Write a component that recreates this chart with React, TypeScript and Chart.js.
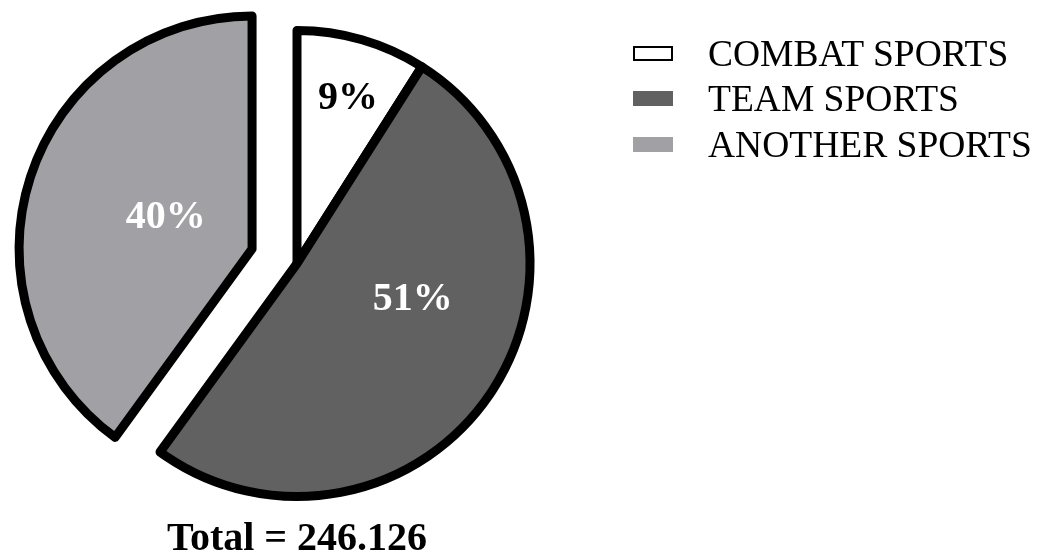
import React, { useEffect, useRef } from "react";
import { Chart, registerables } from "chart.js";

Chart.register(...registerables);

const categories = ["COMBAT SPORTS", "TEAM SPORTS", "ANOTHER SPORTS"];
const percentages = [9, 51, 40];
const sliceColors = ["#ffffff", "#616161", "#a1a0a5"];
const sliceOffsets = [0, 0, 189];
const labelColors = ["#000000", "#ffffff", "#ffffff"];
const totalText = "Total = 246.126";

const SERIF = "'Liberation Serif', 'Times New Roman', Times, serif";

const sliceLabelPlugin = {
  id: "sliceLabels",
  afterDatasetsUpdate(chart: any) {
    // Chart.js enlarges and narrows exploded slices; keep them at the common radius and angle span
    const meta = chart.getDatasetMeta(0);
    meta.data.forEach((arc: any) => {
      const off = (arc.options && arc.options.offset) || 0;
      if (!off) return;
      const t = off / 4;
      const circ = arc.endAngle - arc.startAngle;
      const fix = 1 - Math.sin(Math.min(Math.PI, circ));
      const radiusOffset = t * fix;
      const baseR = arc.outerRadius;
      arc.outerRadius = baseR - radiusOffset;
      const ao = radiusOffset / (2 * Math.PI * baseR);
      arc.startAngle = arc.startAngle - ao;
      arc.endAngle = arc.endAngle + ao;
    });
  },
  afterDatasetsDraw(chart: any, _args: any, opts: any) {
    const ctx = chart.ctx;
    const meta = chart.getDatasetMeta(0);
    const values = chart.data.datasets[0].data;
    ctx.save();
    ctx.font = opts.font;
    ctx.textAlign = "center";
    ctx.textBaseline = "middle";
    meta.data.forEach((arc: any, i: number) => {
      const off = (arc.options && arc.options.offset) || 0;
      const mid = (arc.startAngle + arc.endAngle) / 2;
      const t = off / 4;
      const ang = mid + (opts.angleShift[i] * Math.PI) / 180;
      const r = opts.radiusFrac[i] * arc.outerRadius;
      const x = arc.x + Math.cos(mid) * t + Math.cos(ang) * r;
      const y = arc.y + Math.sin(mid) * t + Math.sin(ang) * r;
      ctx.fillStyle = opts.colors[i];
      ctx.fillText(values[i] + "%", x, y);
    });
    ctx.restore();
  },
};

export default function App() {
  const canvasRef = useRef<HTMLCanvasElement | null>(null);

  useEffect(() => {
    if (!canvasRef.current) return;
    const chart = new Chart(canvasRef.current, {
      type: "pie",
      data: {
        labels: categories,
        datasets: [
          {
            data: percentages,
            backgroundColor: sliceColors,
            borderColor: "#000000",
            borderWidth: 9,
            borderJoinStyle: "round",
            offset: sliceOffsets,
            hoverOffset: 0,
          } as any,
        ],
      },
      options: {
        animation: false,
        responsive: true,
        maintainAspectRatio: false,
        radius: 233,
        layout: { padding: { left: 0, right: 444, top: 7, bottom: 0 } },
        plugins: {
          legend: { display: false },
          tooltip: { enabled: false },
          title: {
            display: true,
            text: totalText,
            position: "bottom",
            fullSize: false,
            padding: 0,
            color: "#000000",
            font: { family: SERIF, size: 40, weight: "bold", lineHeight: 1 },
          },
          sliceLabels: {
            font: `bold 40px ${SERIF}`,
            colors: labelColors,
            radiusFrac: [0.74, 0.52, 0.43],
            angleShift: [1, -17, 2],
          },
        } as any,
      } as any,
      plugins: [sliceLabelPlugin],
    });
    return () => chart.destroy();
  }, []);

  return (
    <div style={{ position: "absolute", left: 0, top: 0, width: 1038, height: 560, background: "#ffffff" }}>
      <canvas ref={canvasRef} />
      <div style={{ position: "absolute", left: 633, top: 30.25 }}>
        {categories.map((c, i) => (
          <div key={c} style={{ display: "flex", alignItems: "center", height: 45.5 }}>
            <div
              style={{
                width: 40,
                height: 15,
                boxSizing: "border-box",
                background: sliceColors[i],
                border: i === 0 ? "2px solid #000" : "none",
              }}
            />
            <span
              style={{
                marginLeft: 35,
                fontFamily: SERIF,
                fontSize: 37.5,
                color: "#000",
                whiteSpace: "nowrap",
                lineHeight: "normal",
              }}
            >
              {c}
            </span>
          </div>
        ))}
      </div>
    </div>
  );
}
